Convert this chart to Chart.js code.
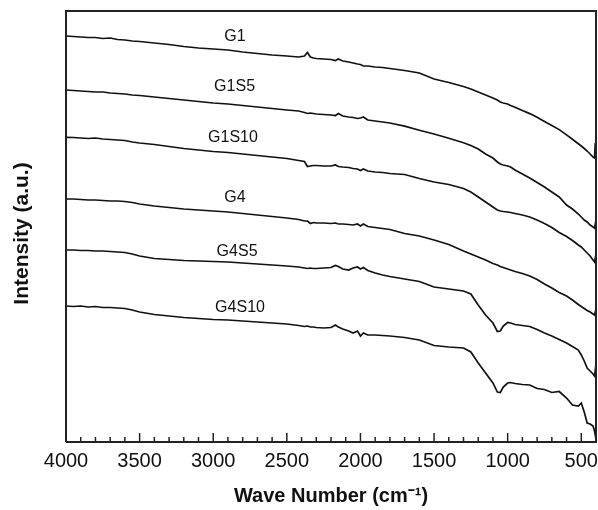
<!DOCTYPE html>
<html>
<head>
<meta charset="utf-8">
<script src="https://cdn.jsdelivr.net/npm/chart.js@4.4.0/dist/chart.umd.min.js"></script>
<style>
  html, body { margin: 0; padding: 0; background: #fff; }
  #c { display: block; }
</style>
</head>
<body>
<canvas id="c" width="598" height="510"></canvas>
<script>
// ---------- DATA ----------
const wavenumbers = [4000,3950,3900,3850,3800,3750,3700,3650,3600,3550,3500,3400,3300,3200,3100,3000,2900,2800,2700,2600,2500,2420,2380,2360,2340,2320,2300,2250,2200,2170,2150,2120,2080,2050,2020,2000,1980,1950,1900,1850,1800,1700,1600,1500,1400,1300,1250,1200,1150,1100,1070,1050,1030,1000,980,950,900,850,800,750,700,650,600,560,520,500,480,460,440,420,410,405,400];

// intensities (a.u.), each spectrum offset vertically as in the figure
const G1    = [406,405.5,405,404.5,404.5,403.5,404,402.5,402,401,400.5,399,397.5,395.5,394,393,392,390,388.5,387,386,385,386,389.5,385,384,383.5,383,382.5,381.5,383,381,380,379,378,377.5,376,376,375,374.5,373.5,371.5,369,363,359.5,355.5,353,350,347,344,342,340,339,338,336.5,334.7,331.5,328.4,324.7,320.6,316.6,312.4,307.1,302.7,298.3,296,293.5,291,288,285,284,299,284];
const G1S5  = [352,351.5,351,350.5,350,350,349,348.5,348,347,346.5,345,343.5,342,340.5,339,338,336.5,335,333.5,332,331,329.5,328.5,329,328.5,328,327.5,327,326.5,328.5,326,325,324.5,323.5,324,325,322,321,320,319,315.8,311.8,308,303.7,299.2,296.5,293,288,284,280,278,277,276,275,272,268,264,259.5,255,250,245,237,233,228,225,222,220,217,215,214,218,212];
const G1S10 = [304.7,304.5,304,303.5,304,303,302.5,302,301.5,300,299,297.5,295.5,293.5,292,290.5,289.5,288,286.5,285,283.5,281.5,280.5,275.5,276,276.5,276.5,276,276,277,275.5,275,274.5,273.5,273,271.5,273,271,270,269.5,268.5,267.5,263.5,260,257.5,253.5,250,245,240,235,232,231,230.5,230,229.5,228.5,227,225,222,218.5,214.5,209.5,205.5,201.5,197,195,192,189,186,182,180,184,178];
const G4    = [243,243,242.5,242,242,241.5,241,241,240.5,239.5,238,236,234.5,233,232,231,230,228.5,227,225.5,224,222.5,221,221,218.5,219.5,219,219,218.5,219,218,218,217.5,217,218,216,218,215.5,214.5,213.5,212.5,208.5,206,202,197.5,191,188,185,182,178.5,177,175.5,174.5,173,172,170.5,168.5,166,162.5,158,154,149.5,146,142,137.5,135.5,133.5,131.5,130,128,127,130,124];
const G4S5  = [192,192,191.5,191.5,191,191,190.5,190,189.5,188,186,183.5,182.5,181.5,181,180.5,180,179,178,177,176,175,174,173.5,174,173.5,173.5,174,174.5,176.5,175.5,173,172,174,175,173,174.5,171.5,169,167,165.5,163,160.5,155,153,151,148,137,127,119,110.5,111,116,119.5,119,117.5,116.5,115.5,112.5,109,106,102.5,99,95.5,92,87,81,74,71,68,66,72,64];
const G4S10 = [136,135.5,136,135,135.5,134.5,134.5,134,133.5,132,130,127.5,126,124.5,123.5,122.5,122,121,120,119,118,116.5,115.5,116,115,115,114.5,114,114.5,117,115,113,111,109,111,106,109,107,107,106.5,106,104.5,102,96.5,95,94,90,79,69,59,50,49.5,55,59,59.5,58.5,57.5,57,53.5,52.5,49.5,50.5,44,37,36,39,30,19,18,16,11,7,2];

const seriesNames = ['G1','G1S5','G1S10','G4','G4S5','G4S10'];
const seriesValues = [G1, G1S5, G1S10, G4, G4S5, G4S10];

const xMajorTicks = [500,1000,1500,2000,2500,3000,3500,4000];
const xMinorStep = 100;
const xRange = [400, 4000];
const yRange = [0, 431];

// ---------- CHART ----------
const FONT = '"Liberation Sans", Arial, sans-serif';
const labelAnchors = {            // where each sample name is written (data coords)
  G1:    [2852, 405],
  G1S5:  [2855, 355],
  G1S10: [2866, 304],
  G4:    [2852, 244],
  G4S5:  [2838, 190],
  G4S10: [2818, 134]
};
const yTitle = 'Intensity (a.u.)';

const datasets = seriesNames.map((name, i) => ({
  label: name,
  data: wavenumbers.map((w, j) => ({x: w, y: seriesValues[i][j]})),
  borderColor: '#111',
  borderWidth: 1.7,
  pointRadius: 0,
  tension: 0,
  fill: false
}));

const framePlugin = {
  id: 'frame',
  afterDraw(chart) {
    const {ctx, chartArea: a, scales} = chart;
    const xs = scales.x;
    ctx.save();
    ctx.strokeStyle = '#222';
    ctx.lineWidth = 2;
    ctx.beginPath();
    ctx.moveTo(a.left, a.bottom);
    ctx.lineTo(a.left, a.top);
    ctx.lineTo(a.right, a.top);
    ctx.lineTo(a.right, a.bottom);
    ctx.lineTo(a.left, a.bottom);
    ctx.stroke();
    // inward ticks on the bottom axis
    ctx.lineWidth = 1.5;
    for (let v = xRange[0]; v <= xRange[1]; v += xMinorStep) {
      const px = xs.getPixelForValue(v);
      const len = xMajorTicks.includes(v) ? 9 : 5;
      ctx.beginPath();
      ctx.moveTo(px, a.bottom);
      ctx.lineTo(px, a.bottom - len);
      ctx.stroke();
    }
    // sample names
    ctx.fillStyle = '#111';
    ctx.font = '16px ' + FONT;
    ctx.textAlign = 'center';
    ctx.textBaseline = 'middle';
    seriesNames.forEach(n => {
      const [wx, wy] = labelAnchors[n];
      ctx.fillText(n, xs.getPixelForValue(wx), scales.y.getPixelForValue(wy));
    });
    // y axis title
    ctx.save();
    ctx.translate(22, (a.top + a.bottom) / 2 + 7);
    ctx.rotate(-Math.PI / 2);
    ctx.font = 'bold 21px ' + FONT;
    ctx.fillText(yTitle, 0, 0);
    ctx.restore();
    ctx.restore();
  }
};

new Chart(document.getElementById('c'), {
  type: 'line',
  data: { datasets },
  options: {
    responsive: false,
    animation: false,
    devicePixelRatio: 1,
    layout: { padding: { top: 11, right: 2, left: 0, bottom: 0 } },
    plugins: { legend: { display: false }, tooltip: { enabled: false } },
    scales: {
      x: {
        type: 'linear',
        reverse: true,
        min: xRange[0],
        max: xRange[1],
        afterBuildTicks: s => { s.ticks = xMajorTicks.map(v => ({value: v})); },
        afterFit: s => { s.height = 68; },
        grid: { display: false, drawTicks: false },
        border: { display: false },
        ticks: {
          color: '#111',
          padding: 7,
          maxRotation: 0,
          autoSkip: false,
          font: { family: FONT, size: 20 },
          callback: v => String(v)
        },
        title: {
          display: true,
          text: 'Wave Number (cm\u207B\u00B9)',
          color: '#111',
          padding: { top: 4, bottom: 2 },
          font: { family: FONT, size: 20, weight: 'bold' }
        }
      },
      y: {
        type: 'linear',
        min: yRange[0],
        max: yRange[1],
        afterFit: s => { s.width = 66; },
        grid: { display: false, drawTicks: false },
        border: { display: false },
        ticks: { display: false },
        title: { display: false }
      }
    }
  },
  plugins: [framePlugin]
});
</script>
</body>
</html>
